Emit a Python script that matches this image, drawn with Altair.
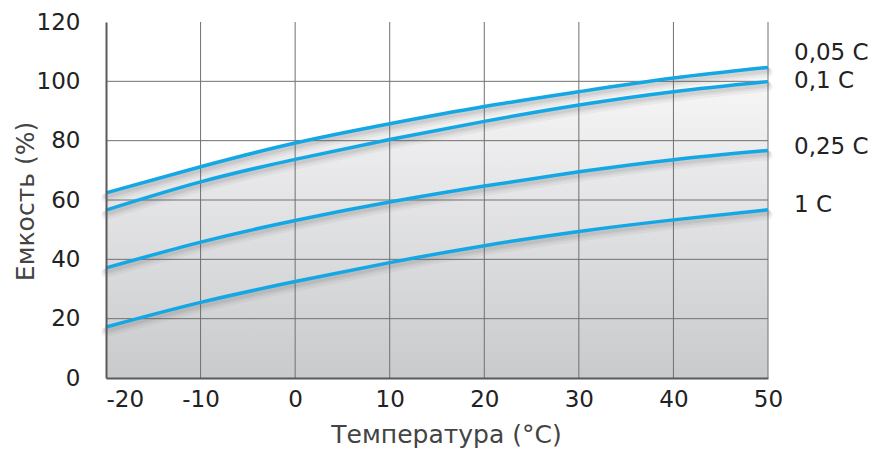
import altair as alt
import pandas as pd

temps = [-20, -10, 0, 10, 20, 30, 40, 50]
series_names = ["0,05 C", "0,1 C", "0,25 C", "1 C"]
cap_005 = [62.4, 71.2, 79.2, 85.7, 91.5, 96.5, 101.1, 104.7]
cap_01 = [56.6, 66.1, 73.7, 80.4, 86.5, 92.0, 96.5, 99.9]
cap_025 = [37.1, 45.8, 53.1, 59.3, 64.7, 69.5, 73.6, 76.7]
cap_1 = [17.2, 25.5, 32.5, 38.9, 44.6, 49.4, 53.3, 56.7]
label_y = [109.7, 100.1, 77.7, 58.3]
x_ticks = [-20, -10, 0, 10, 20, 30, 40, 50]
y_ticks = [0, 20, 40, 60, 80, 100, 120]
x_grid = [-10, 0, 10, 20, 30, 40, 50]
y_grid = [20, 40, 60, 80, 100]

rows = []
for name, vals in zip(series_names, [cap_005, cap_01, cap_025, cap_1]):
    for t, v in zip(temps, vals):
        rows.append({"t": t, "v": v, "s": name})
df = pd.DataFrame(rows)
top_df = df[df.s == "0,05 C"]
lab_df = pd.DataFrame({"t": [50] * 4, "v": label_y, "s": series_names})

FONT = "DejaVu Sans"
FS = 23
TFS = 25
xscale = alt.Scale(domain=[-20, 50], nice=False, zero=False)
yscale = alt.Scale(domain=[0, 120], nice=False)

xax = alt.Axis(values=x_ticks, grid=False, domainColor="#5a5a5a", domainWidth=2,
               ticks=False, labelFontSize=FS, labelFont=FONT, labelColor="#222",
               labelPadding=10, labelFlush=False, labelExpr="'' + datum.value",
               labelAlign=alt.condition("datum.value == -20", alt.value("left"), alt.value("center")),
               title="Температура (°C)", titleFont=FONT, titleFontSize=TFS, titleFontWeight="normal",
               titleColor="#444", titleX=340, titleY=64, titleBaseline="alphabetic", zindex=1)
yax = alt.Axis(values=y_ticks, grid=False, domainColor="#5a5a5a", domainWidth=2,
               ticks=False, labelFontSize=FS, labelFont=FONT, labelColor="#222",
               labelPadding=26, labelFlush=False,
               title="Емкость (%)", titleFont=FONT, titleFontSize=TFS, titleFontWeight="normal",
               titleColor="#444", titleX=-73, titleY=179, titleAngle=-90, titleAlign="center",
               titleBaseline="alphabetic", zindex=1)

X = alt.X("t:Q", scale=xscale, axis=xax)
Y = alt.Y("v:Q", scale=yscale, axis=yax)

area = alt.Chart(top_df).mark_area(
    interpolate="natural",
    color=alt.Gradient(gradient="linear", x1=0, x2=0, y1=0, y2=1,
                       stops=[alt.GradientStop(color="#f8f8f9", offset=0),
                              alt.GradientStop(color="#c9cacc", offset=1)])
).encode(x=X, y=Y)

vgrid = alt.Chart(pd.DataFrame({"t": x_grid})).mark_rule(color="#707070", strokeWidth=1).encode(x=X)
hgrid = alt.Chart(pd.DataFrame({"v": y_grid})).mark_rule(color="#707070", strokeWidth=1).encode(y=Y)

shadows = []
for off, w, op in [(5, 10, 0.06), (4, 7, 0.08), (3, 5, 0.1)]:
    shadows.append(alt.Chart(df).mark_line(interpolate="natural", color="#555", strokeWidth=w,
                                           opacity=op, yOffset=off, strokeCap="round").encode(
        x=X, y=Y, detail="s:N"))

lines = alt.Chart(df).mark_line(interpolate="natural", color="#13a8e5", strokeWidth=3.5).encode(
    x=X, y=Y, detail="s:N")

labels = alt.Chart(lab_df).mark_text(align="left", baseline="middle", dx=26, fontSize=FS,
                                     font=FONT, color="#222").encode(x=X, y=Y, text="s:N")

chart = alt.layer(area, vgrid, hgrid, *shadows, lines, labels).properties(
    width=662, height=356,
    autosize=alt.AutoSizeParams(type="none"),
    padding={"left": 98, "top": 14, "right": 103, "bottom": 78},
).configure_view(strokeWidth=0)

chart.save("out.html", embed_options={"renderer": "svg", "actions": False})
